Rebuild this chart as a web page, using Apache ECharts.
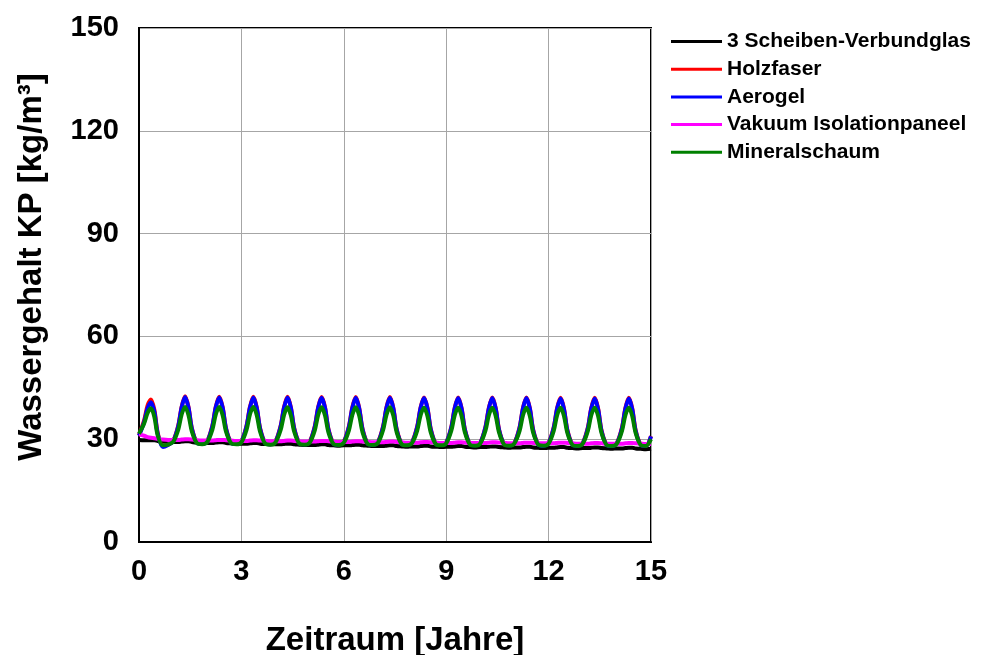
<!DOCTYPE html>
<html>
<head>
<meta charset="utf-8">
<script src="https://cdn.jsdelivr.net/npm/echarts@6/dist/echarts.min.js"></script>
<style>html,body{margin:0;padding:0;background:#fff}#c{width:989px;height:655px}</style>
</head>
<body>
<div id="c"></div>
<script>
const seriesNames = ['3 Scheiben-Verbundglas','Holzfaser','Aerogel','Vakuum Isolationpaneel','Mineralschaum'];
const xTicks = [0,3,6,9,12,15];
const yTicks = [0,30,60,90,120,150];

const times = [
0,0.15,0.25,0.35,0.45,0.55,0.7,0.85,
1,1.15,1.25,1.35,1.45,1.55,1.7,1.85,
2,2.15,2.25,2.35,2.45,2.55,2.7,2.85,
3,3.15,3.25,3.35,3.45,3.55,3.7,3.85,
4,4.15,4.25,4.35,4.45,4.55,4.7,4.85,
5,5.15,5.25,5.35,5.45,5.55,5.7,5.85,
6,6.15,6.25,6.35,6.45,6.55,6.7,6.85,
7,7.15,7.25,7.35,7.45,7.55,7.7,7.85,
8,8.15,8.25,8.35,8.45,8.55,8.7,8.85,
9,9.15,9.25,9.35,9.45,9.55,9.7,9.85,
10,10.15,10.25,10.35,10.45,10.55,10.7,10.85,
11,11.15,11.25,11.35,11.45,11.55,11.7,11.85,
12,12.15,12.25,12.35,12.45,12.55,12.7,12.85,
13,13.15,13.25,13.35,13.45,13.55,13.7,13.85,
14,14.15,14.25,14.35,14.45,14.55,14.7,14.85,
15];

const verbundglas = [
29.8,29.7,29.7,29.7,29.7,29.5,29.3,29.2,
29.2,29.2,29.3,29.4,29.4,29.2,29.0,28.9,
28.9,28.9,29.0,29.1,29.1,28.9,28.8,28.7,
28.7,28.7,28.8,28.9,28.9,28.7,28.6,28.5,
28.5,28.5,28.6,28.7,28.7,28.5,28.4,28.3,
28.3,28.3,28.4,28.5,28.5,28.3,28.2,28.1,
28.2,28.2,28.3,28.4,28.4,28.2,28.1,28.0,
28.0,28.0,28.1,28.2,28.2,28.0,27.9,27.8,
27.9,27.9,28.0,28.1,28.1,27.9,27.8,27.7,
27.8,27.8,27.9,28.0,28.0,27.8,27.7,27.6,
27.7,27.7,27.8,27.9,27.9,27.7,27.6,27.5,
27.6,27.6,27.7,27.8,27.8,27.6,27.5,27.4,
27.5,27.5,27.6,27.7,27.7,27.5,27.4,27.3,
27.4,27.4,27.5,27.6,27.6,27.4,27.3,27.2,
27.3,27.3,27.4,27.5,27.5,27.3,27.2,27.1,
27.2];

const holzfaser = [
31.2,35.5,39.8,41.6,38.6,31.8,28.0,28.4,
29.5,34.0,39.5,42.5,39.4,33.2,29.0,28.7,
29.5,34.0,39.5,42.4,39.4,33.2,29.0,28.7,
29.4,33.9,39.4,42.4,39.3,33.1,28.9,28.6,
29.4,33.9,39.4,42.4,39.3,33.1,28.9,28.6,
29.3,33.8,39.4,42.3,39.3,33.0,28.8,28.5,
29.3,33.8,39.3,42.3,39.2,33.0,28.8,28.5,
29.2,33.7,39.3,42.3,39.2,32.9,28.7,28.4,
29.2,33.7,39.3,42.2,39.2,32.9,28.7,28.4,
29.1,33.6,39.2,42.2,39.1,32.8,28.6,28.3,
29.1,33.6,39.2,42.2,39.1,32.8,28.6,28.3,
29.0,33.5,39.2,42.2,39.1,32.7,28.5,28.2,
29.0,33.5,39.1,42.1,39.0,32.7,28.5,28.2,
28.9,33.4,39.1,42.1,39.0,32.6,28.4,28.1,
28.9,33.4,39.1,42.1,39.0,32.6,28.4,28.1,
30.9];

const aerogel = [
31.0,35.0,39.0,40.8,38.0,31.5,27.7,28.3,
29.4,33.8,39.3,42.3,39.2,33.0,28.9,28.6,
29.4,33.8,39.3,42.2,39.2,33.0,28.9,28.6,
29.3,33.7,39.2,42.2,39.1,32.9,28.8,28.5,
29.3,33.7,39.2,42.2,39.1,32.9,28.8,28.5,
29.2,33.6,39.2,42.1,39.1,32.8,28.7,28.4,
29.2,33.6,39.1,42.1,39.0,32.8,28.7,28.4,
29.1,33.5,39.1,42.1,39.0,32.7,28.6,28.3,
29.1,33.5,39.1,42.0,39.0,32.7,28.6,28.3,
29.0,33.4,39.0,42.0,38.9,32.6,28.5,28.2,
29.0,33.4,39.0,42.0,38.9,32.6,28.5,28.2,
28.9,33.3,39.0,42.0,38.9,32.5,28.4,28.1,
28.9,33.3,38.9,41.9,38.8,32.5,28.4,28.1,
28.8,33.2,38.9,41.9,38.8,32.4,28.3,28.0,
28.8,33.2,38.9,41.9,38.8,32.4,28.3,28.0,
30.8];

const vakuum = [
31.4,31.0,30.6,30.4,30.3,30.1,29.9,29.8,
29.8,29.8,29.9,30.0,30.0,29.9,29.7,29.6,
29.6,29.6,29.7,29.8,29.8,29.7,29.6,29.5,
29.5,29.5,29.6,29.7,29.7,29.6,29.5,29.4,
29.4,29.4,29.5,29.6,29.6,29.5,29.4,29.3,
29.3,29.3,29.4,29.5,29.5,29.4,29.3,29.2,
29.2,29.2,29.3,29.4,29.4,29.3,29.2,29.1,
29.1,29.1,29.2,29.3,29.3,29.2,29.1,29.0,
29.0,29.0,29.1,29.2,29.2,29.1,29.0,28.9,
28.9,28.9,29.0,29.1,29.1,29.0,28.9,28.9,
28.9,28.9,29.0,29.1,29.1,29.0,28.9,28.8,
28.8,28.8,28.9,29.0,29.0,28.9,28.8,28.8,
28.8,28.8,28.9,29.0,29.0,28.9,28.8,28.7,
28.7,28.7,28.8,28.9,28.9,28.8,28.7,28.7,
28.7,28.7,28.8,28.9,28.9,28.8,28.7,28.6,
28.6];

const mineralschaum = [
31.6,34.6,37.6,39.0,36.5,31.0,28.2,28.4,
29.2,32.8,37.2,39.4,37.0,32.2,28.8,28.5,
29.2,32.8,37.2,39.4,37.0,32.2,28.8,28.5,
29.1,32.7,37.2,39.4,37.0,32.1,28.7,28.4,
29.1,32.7,37.1,39.3,36.9,32.1,28.7,28.4,
29.0,32.6,37.1,39.3,36.9,32.0,28.6,28.3,
29.0,32.6,37.1,39.3,36.9,32.0,28.6,28.3,
28.9,32.6,37.1,39.3,36.9,32.0,28.5,28.2,
28.9,32.5,37.0,39.2,36.8,31.9,28.5,28.2,
28.8,32.5,37.0,39.2,36.8,31.9,28.4,28.1,
28.8,32.5,37.0,39.2,36.8,31.9,28.4,28.1,
28.8,32.4,37.0,39.2,36.8,31.8,28.4,28.1,
28.7,32.4,37.0,39.2,36.8,31.8,28.3,28.0,
28.7,32.4,37.0,39.2,36.8,31.8,28.3,28.0,
28.7,32.4,37.0,39.2,36.8,31.8,28.3,28.0,
30.0];

const colors = ['#000000','#ff0000','#0000ff','#ff00ff','#008000'];
const allValues = [verbundglas, holzfaser, aerogel, vakuum, mineralschaum];
const FONT = 'Liberation Sans, Arial, sans-serif';

const chart = echarts.init(document.getElementById('c'), null, {renderer:'canvas'});
chart.setOption({
  animation: false,
  backgroundColor: '#fff',
  grid: {left:139, top:28, width:512, height:514, show:true, borderColor:'#000', borderWidth:2, backgroundColor:'transparent', containLabel:false, outerBoundsMode:'none'},
  legend: {
    orient:'vertical', left:671, top:31, padding:0,
    icon:'rect', itemWidth:51, itemHeight:3, itemGap:6.7,
    textStyle:{fontFamily:FONT, fontWeight:'bold', fontSize:21, color:'#000', lineHeight:21},
    data: seriesNames
  },
  xAxis: {
    type:'value', min:xTicks[0], max:xTicks[xTicks.length-1], interval:3,
    name:'Zeitraum [Jahre]', nameLocation:'middle', nameGap:82,
    nameTextStyle:{fontFamily:FONT, fontWeight:'bold', fontSize:33, color:'#000'},
    axisLine:{show:true, lineStyle:{color:'#000', width:2}},
    axisTick:{show:false},
    axisLabel:{fontFamily:FONT, fontWeight:'bold', fontSize:29, color:'#000', margin:15},
    splitLine:{show:true, lineStyle:{color:'#a6a6a6', width:1}}
  },
  yAxis: {
    type:'value', min:yTicks[0], max:yTicks[yTicks.length-1], interval:30,
    name:'Wassergehalt KP [kg/m³]', nameLocation:'middle', nameGap:91,
    nameTextStyle:{fontFamily:FONT, fontWeight:'bold', fontSize:33, color:'#000', padding:[0,0,0,36]},
    axisLine:{show:true, lineStyle:{color:'#000', width:2}},
    axisTick:{show:false},
    axisLabel:{fontFamily:FONT, fontWeight:'bold', fontSize:29, color:'#000', margin:20},
    splitLine:{show:true, lineStyle:{color:'#a6a6a6', width:1}}
  },
  series: seriesNames.map((n,i)=>({
    name:n, type:'line', smooth:0.3, showSymbol:false, symbol:'none',
    lineStyle:{color:colors[i], width:4},
    itemStyle:{color:colors[i]},
    data: times.map((t,j)=>[t, allValues[i][j]])
  }))
});
</script>
</body>
</html>
